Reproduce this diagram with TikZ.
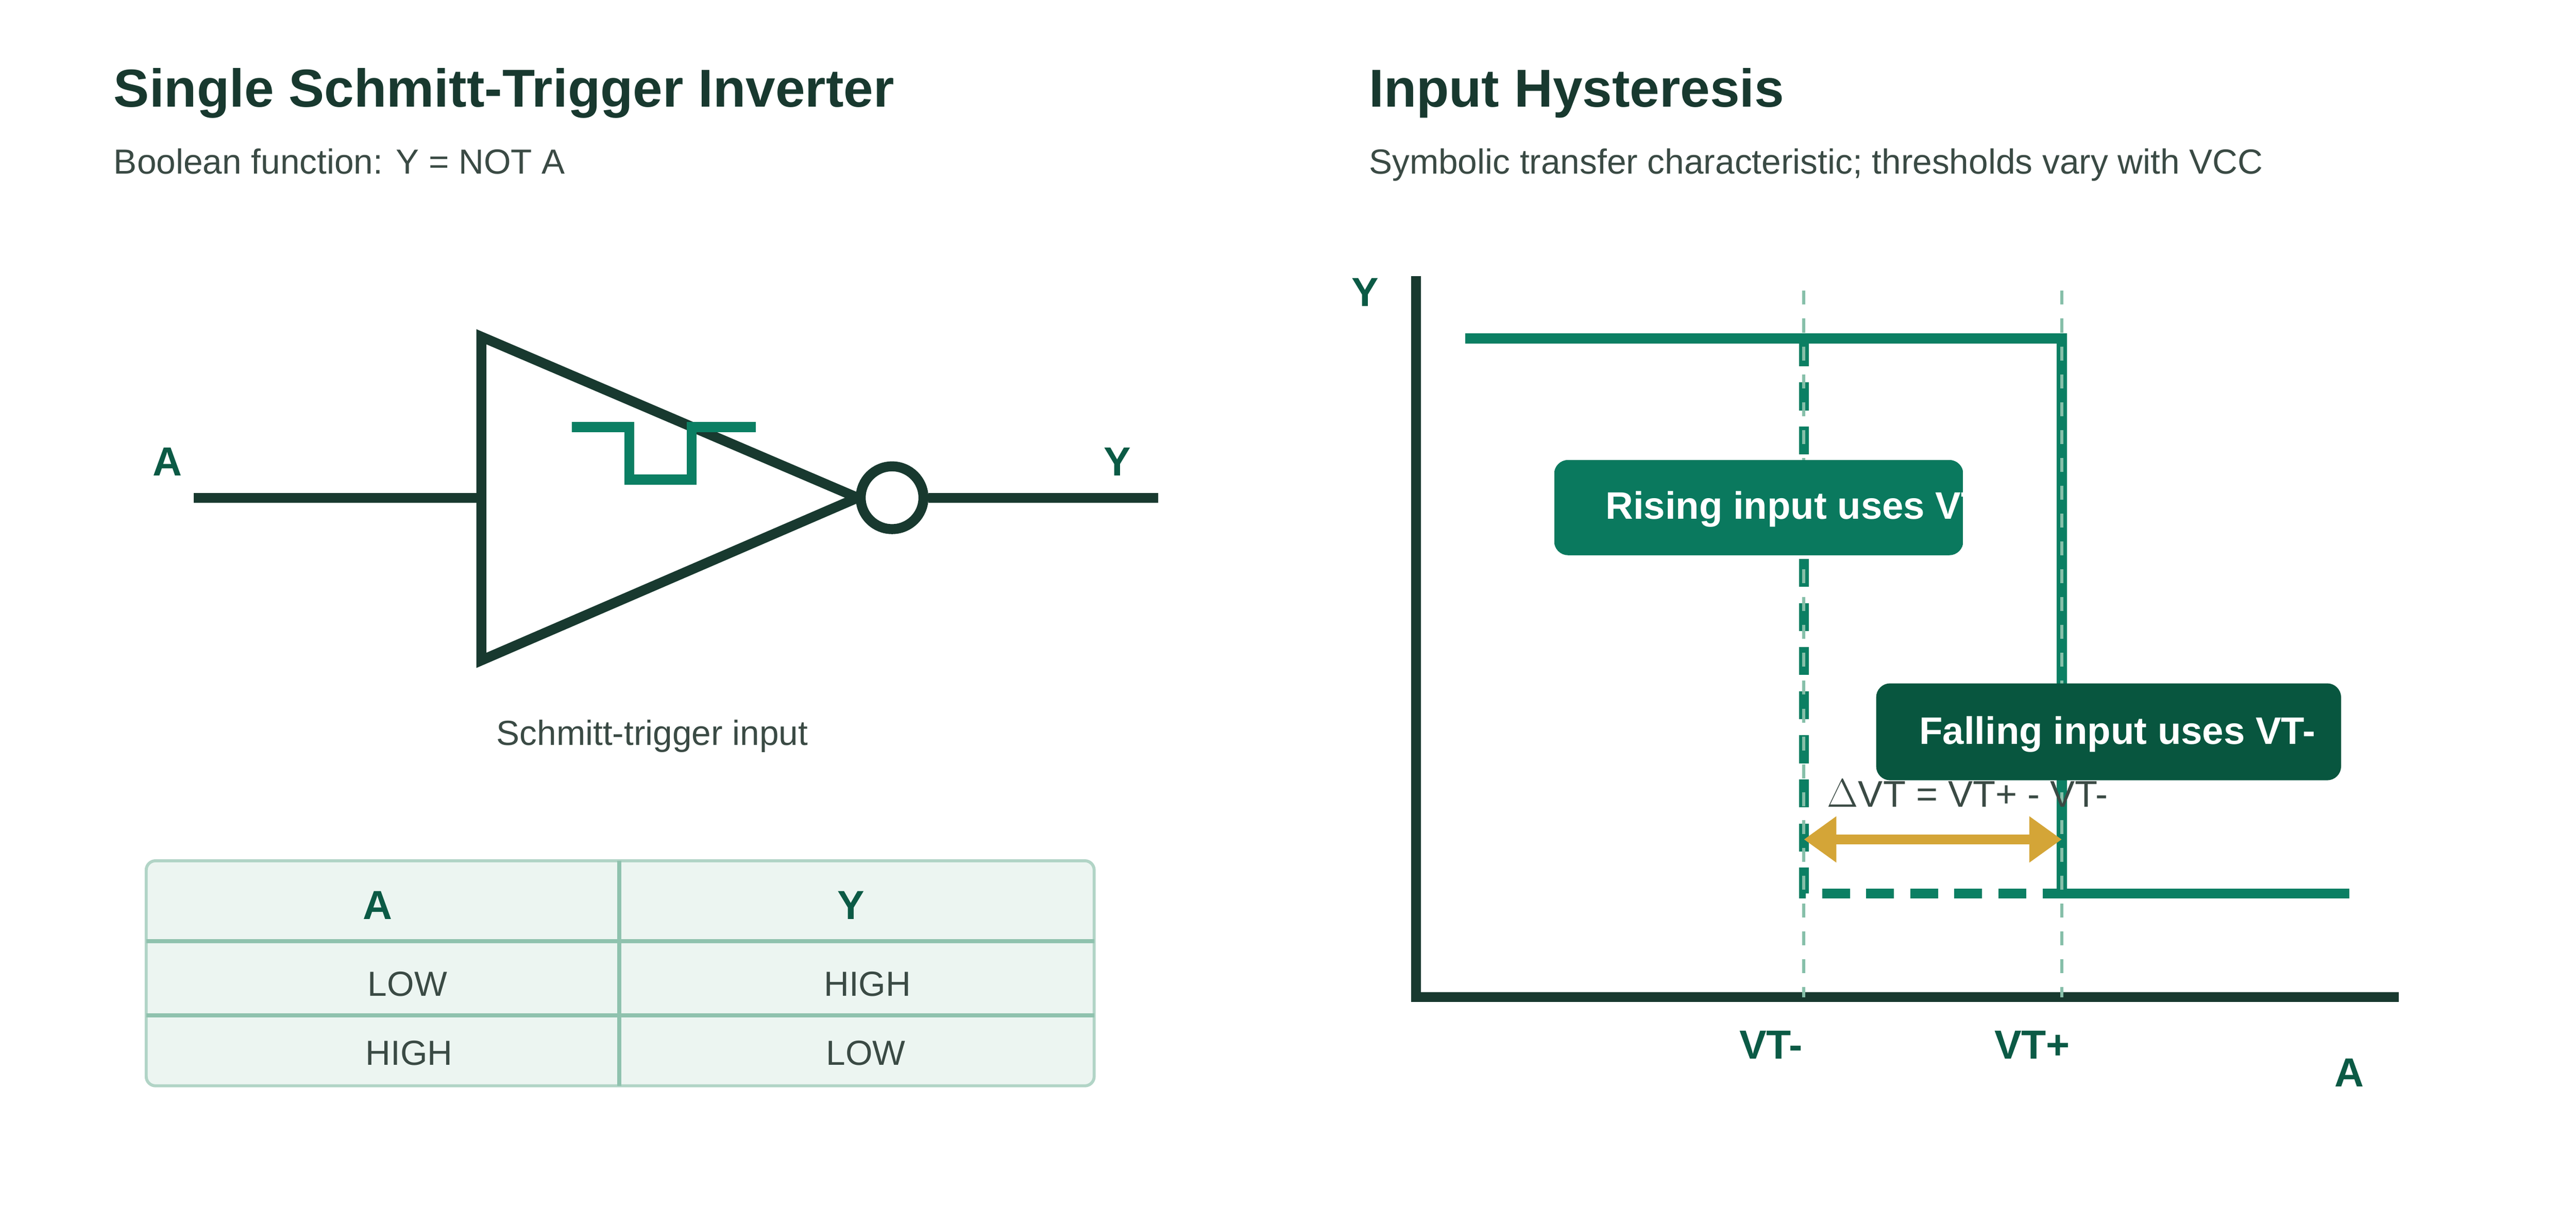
\documentclass[tikz,border=0pt]{standalone}
\usepackage{fontspec}
\setmainfont{Liberation Sans}
\usetikzlibrary{arrows.meta,positioning}
\definecolor{ink}{HTML}{18392F}
\definecolor{sub}{HTML}{3A4A44}
\definecolor{teal}{HTML}{0B7F63}
\definecolor{deep}{HTML}{08563F}
\definecolor{lbl}{HTML}{0B5A45}
\definecolor{guide}{HTML}{86BFA9}
\definecolor{gold}{HTML}{D4A537}
\definecolor{cell}{HTML}{ECF5F1}
\definecolor{rule}{HTML}{8FC2AE}
\tikzset{
  title/.style={anchor=base west,text=ink,font=\fontsize{23}{27}\selectfont\bfseries,inner sep=0},
  subtitle/.style={anchor=base west,text=sub,font=\fontsize{15}{18}\selectfont,inner sep=0},
  pin/.style={text=lbl,font=\fontsize{17.5}{20}\selectfont\bfseries,inner sep=0},
  wire/.style={ink,line width=4.3pt},
  cellt/.style={text=sub,font=\fontsize{15}{18}\selectfont,inner sep=0},
  boxt/.style={text=white,font=\fontsize{16.5}{19}\selectfont\bfseries,inner sep=0,anchor=west},
}
\begin{document}
\begin{tikzpicture}[x=0.02487cm,y=-0.02487cm]
      \useasboundingbox (0,0) rectangle (1568,745);

      % left panel
      \node[title] (t1) at (69,65) {Single Schmitt-Trigger Inverter};
      \node[subtitle] (s1) at (69,106) {Boolean function: Y = NOT A};

      \coordinate (ain) at (118,303);
      \coordinate (tl) at (293,205);
      \coordinate (bl) at (293,402);
      \coordinate (tip) at (522,303);
      \coordinate (yout) at (705,303);
      \draw[wire,line join=miter] (tl) -- (tip) -- (bl) -- cycle;
      \draw[wire] (ain) -- (293,303);
      \node[circle,draw=ink,line width=4.3pt,fill=white,minimum size=0.95cm,inner sep=0] (bub) at (543,303) {};
      \draw[wire] (bub.east) -- (yout);
      \draw[teal,line width=4.3pt] (348,260) -- (383,260) -- (383,292) -- (421,292) -- (421,260) -- (460,260);
      \node[pin] (la) at (102,281) {A};
      \node[pin] (ly) at (680,281) {Y};
      \node[cellt] (cap) at (397,448) {Schmitt-trigger input};

      \draw[fill=cell,draw=rule!70!white,line width=1.3pt,rounded corners=4pt] (89,524) rectangle (666,661);
      \draw[rule,line width=1.8pt] (89,573) -- (666,573) (89,618) -- (666,618) (377,524) -- (377,661);
      \node[pin] (ha) at (230,551) {A};
      \node[pin] (hy) at (518,551) {Y};
      \node[cellt] (r1a) at (248,599) {LOW};
      \node[cellt] (r1y) at (528,599) {HIGH};
      \node[cellt] (r2a) at (249,641) {HIGH};
      \node[cellt] (r2y) at (527,641) {LOW};

      % right panel
      \node[title] (t2) at (833,65) {Input Hysteresis};
      \node[subtitle] (s2) at (833,106) {Symbolic transfer characteristic; thresholds vary with VCC};

      \draw[wire] (862,168) -- (862,607) -- (1460,607);
      \node[pin] (ay) at (831,178) {Y};
      \node[pin] (ax) at (1430,653) {A};
      \node[pin] (vtm) at (1078,636) {VT-};
      \node[pin] (vtp) at (1237,636) {VT+};

      \draw[teal,line width=4.3pt] (892,206) -- (1255,206) -- (1255,544) -- (1430,544);
      \draw[teal,line width=4.3pt,dash pattern=on 12pt off 7pt] (1098,206) -- (1098,544) -- (1255,544);
      \draw[guide,line width=1.3pt,dash pattern=on 6pt off 6pt] (1098,177) -- (1098,607) (1255,177) -- (1255,607);

      \node[text=sub,font=\fontsize{16}{19}\selectfont,inner sep=0,anchor=west] (dv) at (1112,483) {$\Delta$VT = VT+ - VT-};
      \draw[gold,line width=4.3pt,{Triangle[length=14pt,width=19pt]}-{Triangle[length=14pt,width=19pt]}] (1098,511) -- (1255,511);

      \begin{scope}
        \clip[rounded corners=6pt] (946,280) rectangle (1195,338);
        \fill[teal!95!black] (946,280) rectangle (1195,338);
        \node[boxt] (rise) at (977,310) {Rising input uses VT+};
      \end{scope}
      \fill[deep,rounded corners=6pt] (1142,416) rectangle (1425,475);
      \node[boxt] (fall) at (1168,447) {Falling input uses VT-};
\end{tikzpicture}
\end{document}
